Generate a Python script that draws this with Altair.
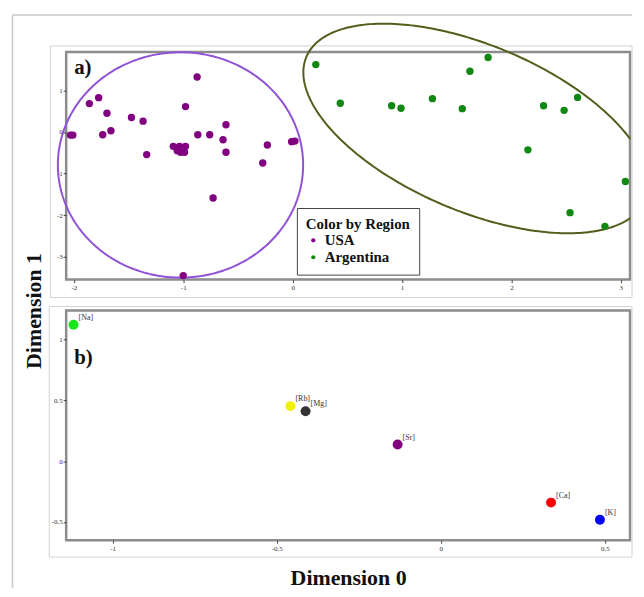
import altair as alt
import numpy as np
import pandas as pd

# ---------------- data ----------------
usa_x = [-2.031, -2.009, -1.858, -1.773, -1.697, -1.736, -1.661, -1.473, -1.367, -1.334,
         -1.091, -1.055, -1.025, -0.988, -0.979, -1.034, -0.979, -0.873, -0.867, -0.758,
         -0.609, -0.636, -0.609, -0.727, -0.231, -0.273, -0.009, 0.021, -1.0]
usa_y = [-0.076, -0.076, 0.682, 0.825, 0.450, -0.066, 0.029, 0.347, 0.259, -0.544,
         -0.346, -0.449, -0.489, -0.489, -0.346, -0.346, 0.610, 1.320, -0.066, -0.066,
         0.173, -0.186, -0.489, -1.589, -0.315, -0.745, -0.234, -0.219, -3.454]
arg_x = [0.212, 0.436, 0.905, 0.991, 1.278, 1.551, 1.621, 1.787, 2.294, 2.482,
         2.605, 2.151, 3.042, 2.536, 2.855]
arg_y = [1.62, 0.69, 0.63, 0.57, 0.80, 0.56, 1.46, 1.79, 0.63, 0.52,
         0.83, -0.43, -1.19, -1.94, -2.27]
regions = ["USA", "Argentina"]

elem_names = ["[Na]", "[Rb]", "[Mg]", "[Sr]", "[Ca]", "[K]"]
elem_x = [-1.119, -0.458, -0.412, -0.1315, 0.336, 0.485]
elem_y = [1.123, 0.453, 0.410, 0.137, -0.341, -0.482]
elem_colors = ["#19e619", "#f0f000", "#333333", "#800080", "#ff0000", "#0000ff"]

# ellipse outlines: centre and the two conjugate half-axes (data units)
usa_center = [-1.025, -0.793]
usa_u = [1.121, 0.0]
usa_v = [0.0, 2.709]
arg_center = [1.675, 0.084]
arg_u = [1.549, -1.721]
arg_v = [-0.295, -1.84]


def ellipse_df(center, u, v, n=300, x_max=None):
    t0 = np.arctan2(v[0], u[0])
    t = t0 + np.linspace(0, 2 * np.pi, n)
    x = center[0] + u[0] * np.cos(t) + v[0] * np.sin(t)
    y = center[1] + u[1] * np.cos(t) + v[1] * np.sin(t)
    df = pd.DataFrame({"x": x, "y": y, "i": np.arange(n)})
    if x_max is not None:
        df = df[df["x"] <= x_max]
    return df


pts_top = pd.DataFrame({
    "x": usa_x + arg_x,
    "y": usa_y + arg_y,
    "Region": ["USA"] * len(usa_x) + ["Argentina"] * len(arg_x),
})
pts_bot = pd.DataFrame({"x": elem_x, "y": elem_y, "name": elem_names})
one = pd.DataFrame({"k": [0]})

SERIF = "Liberation Serif"
W = 567
H_TOP = 229
H_BOT = 231

# ---------------- top panel ----------------
X_top = alt.X("x:Q", scale=alt.Scale(domain=[-2.07, 3.0845], nice=False, zero=False),
              axis=alt.Axis(values=[-2, -1, 0, 1, 2, 3], title=None,
                            labelExpr="'' + datum.value"))
Y_top = alt.Y("y:Q", scale=alt.Scale(domain=[-3.55, 1.925], nice=False, zero=False),
              axis=alt.Axis(values=[-3, -2, -1, 0, 1], labelExpr="'' + datum.value",
                            title="Dimension 1", titleX=-33, titleY=260,
                            titleAngle=270, titleAlign="center", titleBaseline="middle",
                            titleFont=SERIF, titleFontSize=22, titleFontWeight="bold",
                            titleColor="#111111"))

fig_left = alt.Chart(one).mark_rule(color="#c8c8c8", strokeWidth=1.5).encode(
    x=alt.value(-54), y=alt.value(-37), y2=alt.value(539))
fig_top = alt.Chart(one).mark_rule(color="#c8c8c8", strokeWidth=1.5).encode(
    x=alt.value(-54), x2=alt.value(569), y=alt.value(-37))
box_top = alt.Chart(one).mark_rect(fillOpacity=0, stroke="#d2d2d2", strokeWidth=1).encode(
    x=alt.value(-16), x2=alt.value(569), y=alt.value(-6), y2=alt.value(247))

ell_usa = alt.Chart(ellipse_df(usa_center, usa_u, usa_v)).mark_line(
    color="#9152d6", strokeWidth=2, clip=False).encode(x=X_top, y=Y_top, order="i:Q")
ell_arg = alt.Chart(ellipse_df(arg_center, arg_u, arg_v, x_max=3.10)).mark_line(
    color="#4f5f1c", strokeWidth=2, clip=False).encode(x=X_top, y=Y_top, order="i:Q")

dots_top = alt.Chart(pts_top).mark_circle(size=55, opacity=1).encode(
    x=X_top, y=Y_top,
    color=alt.Color("Region:N",
                    scale=alt.Scale(domain=regions, range=["#800080", "#118811"]),
                    legend=alt.Legend(title="Color by Region", orient="none",
                                      legendX=232, legendY=157,
                                      titleFont=SERIF, titleFontSize=15,
                                      titleFontWeight="bold", titleColor="#111111",
                                      labelFont=SERIF, labelFontSize=15,
                                      labelFontWeight="bold", labelColor="#111111",
                                      symbolType="circle", symbolSize=18,
                                      symbolStrokeWidth=0, padding=9,
                                      strokeColor="#444444", fillColor="white",
                                      titlePadding=1, rowPadding=1, labelOffset=4)))

lab_a = alt.Chart(one).mark_text(text="a)", font=SERIF, fontSize=21, fontWeight="bold",
                                 align="left", baseline="alphabetic", color="#111111").encode(
    x=alt.value(8), y=alt.value(22))

top = alt.layer(fig_left, fig_top, box_top, ell_usa, ell_arg, dots_top, lab_a).properties(
    width=W, height=H_TOP)

# ---------------- bottom panel ----------------
X_bot = alt.X("x:Q", scale=alt.Scale(domain=[-1.1415, 0.5767], nice=False, zero=False),
              axis=alt.Axis(values=[-1, -0.5, 0, 0.5], labelExpr="'' + datum.value",
                            title="Dimension 0", titleY=45, titleBaseline="alphabetic",
                            titleFont=SERIF, titleFontSize=22, titleFontWeight="bold",
                            titleColor="#111111"))
Y_bot = alt.Y("y:Q", scale=alt.Scale(domain=[-0.65, 1.24], nice=False, zero=False),
              axis=alt.Axis(values=[-0.5, 0, 0.5, 1], labelExpr="'' + datum.value",
                            title=None))

box_bot = alt.Chart(one).mark_rect(fillOpacity=0, stroke="#d2d2d2", strokeWidth=1).encode(
    x=alt.value(-17), x2=alt.value(569), y=alt.value(-4), y2=alt.value(248))

dots_bot = alt.Chart(pts_bot).mark_circle(size=100, opacity=1).encode(
    x=X_bot, y=Y_bot,
    color=alt.Color("name:N", scale=alt.Scale(domain=elem_names, range=elem_colors),
                    legend=None))
labels_bot = alt.Chart(pts_bot).mark_text(font=SERIF, fontSize=8, align="left",
                                          baseline="middle", dx=5, dy=-7,
                                          color="#333333").encode(
    x=X_bot, y=Y_bot, text="name:N")

lab_b = alt.Chart(one).mark_text(text="b)", font=SERIF, fontSize=21, fontWeight="bold",
                                 align="left", baseline="alphabetic", color="#111111").encode(
    x=alt.value(8), y=alt.value(54))

bottom = alt.layer(box_bot, dots_bot, labels_bot, lab_b).properties(width=W, height=H_BOT)

chart = alt.vconcat(top, bottom, spacing=31, bounds="flush").resolve_scale(
    color="independent"
).properties(
    padding={"left": 2.5, "top": 3.5, "right": 0, "bottom": 0}
).configure_view(
    stroke="#8c8c8c", strokeWidth=2.5
).configure_axis(
    domain=False, grid=False, tickColor="#444444", tickSize=3,
    labelFont=SERIF, labelFontSize=7, labelColor="#333333", labelPadding=1
)

chart.save("out.html", embed_options={"renderer": "svg", "actions": False})
